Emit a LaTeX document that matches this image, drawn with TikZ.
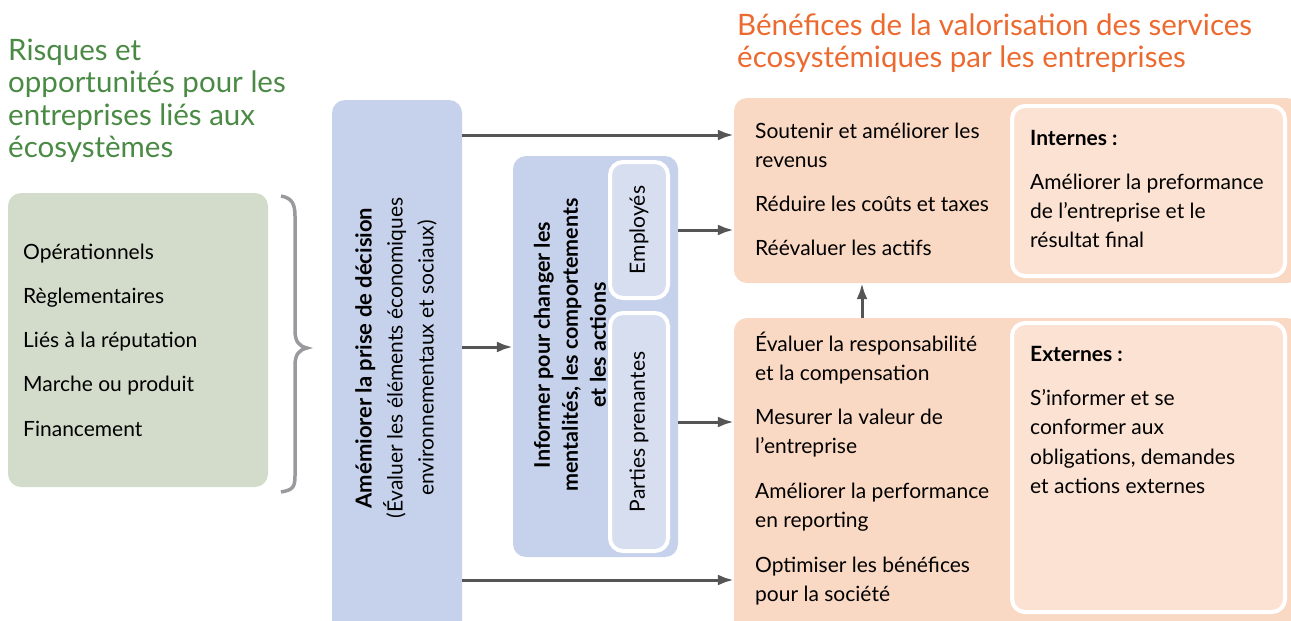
\documentclass[tikz,border=0pt]{standalone}
\usepackage{fontspec}
\setmainfont{Lato}
\usetikzlibrary{arrows.meta,positioning}
\definecolor{vertTitre}{HTML}{4A8A45}
\definecolor{orangeTitre}{HTML}{EC6A2F}
\definecolor{vertFond}{HTML}{D3DCCB}
\definecolor{bleuFond}{HTML}{C6D2EB}
\definecolor{bleuClair}{HTML}{D6DEF0}
\definecolor{orangeFond}{HTML}{FAD9C4}
\definecolor{orangeClair}{HTML}{FCE2D2}
\definecolor{grisFleche}{HTML}{555555}
\definecolor{grisAccolade}{HTML}{9A9A9E}
\tikzset{
	boite/.style={rectangle, rounded corners=13pt, inner sep=0pt},
	cadre/.style={boite, draw=white, line width=4pt},
	titre/.style={anchor=base west, align=left, inner sep=0pt, font=\fontsize{29.5}{32.5}\selectfont},
	item/.style={anchor=base west, align=left, inner sep=0pt, font=\fontsize{21}{29}\selectfont},
	vertical/.style={rotate=90, align=center, inner sep=0pt},
	fleche/.style={grisFleche, line width=3pt, -{Latex[length=16pt,width=11pt]}}
}
\begin{document}
\begin{tikzpicture}[x=1pt,y=-1pt]
		\useasboundingbox (0,0) rectangle (1291,621);
		%%%%% TITRES %%%%%
		\node[titre, text=vertTitre] (risquesTitre) at (8,157.5) {Risques et\\opportunités pour les\\entreprises liés aux\\écosystèmes};
		\node[titre, text=orangeTitre, font=\fontsize{29.5}{32}\selectfont] (beneficesTitre) at (737,67) {Bénéfices de la valorisation des services\\écosystémiques par les entreprises};
		
		%%%%% RISQUES %%%%%
		\node[boite, fill=vertFond, minimum width=260pt, minimum height=294pt] (risques) at (138,340) {};
		\node[item] (operationnels) at (23,259) {Opérationnels};
		\node[item] (reglementaires) at (23,303) {Règlementaires};
		\node[item] (reputation) at (23,347) {Liés à la réputation};
		\node[item] (marche) at (23,391) {Marche ou produit};
		\node[item] (financement) at (23,436) {Financement};
		\draw[grisAccolade, line width=3.5pt]
			(281,196) .. controls (292,198) and (295,204) .. (295,216) -- (295,330)
			.. controls (295,342) and (299,346) .. (307,348)
			.. controls (299,350) and (295,354) .. (295,366) -- (295,476)
			.. controls (295,488) and (292,490) .. (281,492);
		
		%%%%% DECISION %%%%%
		\node[boite, fill=bleuFond, minimum width=130pt, minimum height=540pt] (decision) at (397,370) {};
		\node[vertical, font=\fontsize{21}{31}\selectfont] (decisionTexte) at (396,358) {{\fontsize{22}{31}\selectfont\bfseries Amémiorer la prise de décision}\\(Évaluer les éléments économiques\\environnementaux et sociaux)};
		
		\node[boite, fill=bleuFond, minimum width=165pt, minimum height=401pt] (informer) at (595.5,356.5) {};
		\node[vertical, font=\bfseries\fontsize{21.5}{28}\selectfont] (informerTexte) at (570,345) {Informer pour changer les\\mentalités, les comportements\\et les actions};
		\node[cadre, fill=bleuClair, minimum width=58pt, minimum height=136pt] (employes) at (639,230) {};
		\node[vertical, font=\fontsize{21}{28}\selectfont] at (employes) {Employés};
		\node[cadre, fill=bleuClair, minimum width=58pt, minimum height=238pt] (parties) at (639,432) {};
		\node[vertical, font=\fontsize{21}{28}\selectfont] at (parties) {Parties prenantes};
		
		%%%%% BENEFICES %%%%%
		\node[boite, fill=orangeFond, minimum width=566pt, minimum height=185pt] (internes) at (1017,190.5) {};
		\node[cadre, fill=orangeClair, minimum width=273pt, minimum height=170pt] (internesCadre) at (1148.5,191) {};
		\node[item] (soutenir) at (755,167) {Soutenir et améliorer les\\revenus};
		\node[item] (reduire) at (755,211) {Réduire les coûts et taxes};
		\node[item] (reevaluer) at (755,255) {Réévaluer les actifs};
		\node[item, font=\bfseries\fontsize{21}{29}\selectfont] (internesTitre) at (1030,145) {Internes :};
		\node[item] (internesTexte) at (1030,247) {Améliorer la preformance\\de l’entreprise et le\\résultat final};
		
		\node[boite, fill=orangeFond, minimum width=566pt, minimum height=322pt] (externes) at (1017,479) {};
		\node[cadre, fill=orangeClair, minimum width=273pt, minimum height=289pt] (externesCadre) at (1148.5,467.5) {};
		\node[item] (evaluer) at (755,380) {Évaluer la responsabilité\\et la compensation};
		\node[item] (mesurer) at (755,453) {Mesurer la valeur de\\l’entreprise};
		\node[item] (ameliorer) at (755,527) {Améliorer la performance\\en reporting};
		\node[item] (optimiser) at (755,601) {Optimiser les bénéfices\\pour la société};
		\node[item, font=\bfseries\fontsize{21}{29}\selectfont] (externesTitre) at (1030,361) {Externes :};
		\node[item, font=\fontsize{21}{29.5}\selectfont] (externesTexte) at (1030,493.5) {S’informer et se\\conformer aux\\obligations, demandes\\et actions externes};
		
		%%%%% FLECHES %%%%%
		\coordinate (hautFleche) at (0,135);
		\coordinate (milieuFleche) at (0,347);
		\coordinate (basFleche) at (0,580);
		\coordinate (partiesFleche) at (0,422);
		\coordinate (hautMonte) at (862,0);
		\draw[fleche] (decision.east |- hautFleche) -- (internes.west |- hautFleche);
		\draw[fleche] (decision.east |- milieuFleche) -- (informer.west |- milieuFleche);
		\draw[fleche] (decision.east |- basFleche) -- (externes.west |- basFleche);
		\draw[fleche] (informer.east |- employes) -- (internes.west |- employes);
		\draw[fleche] (informer.east |- partiesFleche) -- (externes.west |- partiesFleche);
		\draw[fleche] (externes.north -| hautMonte) -- (internes.south -| hautMonte);
\end{tikzpicture}
\end{document}
